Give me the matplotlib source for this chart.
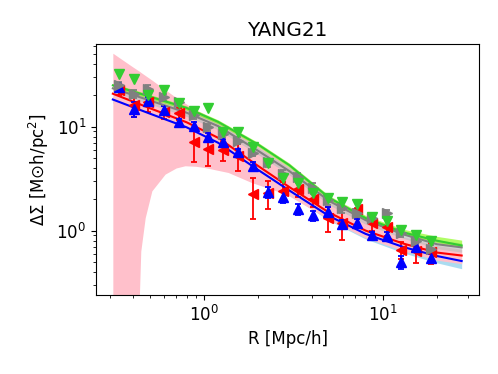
import numpy as np
import matplotlib.pyplot as plt

plt.rcParams['font.size'] = 12

# radial bins of the measurements (Mpc/h)
r_data = [0.336, 0.409, 0.49, 0.599, 0.726, 0.88, 1.057, 1.28, 1.55, 1.88, 2.28,
          2.76, 3.35, 4.06, 4.92, 5.89, 7.13, 8.64, 10.47, 12.6, 15.3, 18.5]

# measured Delta Sigma for the four samples
red_y = [22.3, 16.0, 17.2, 13.8, 13.4, 7.05, 6.09, 5.9, 5.25, 2.25, 2.32,
         2.41, 2.5, 2.02, 1.33, 1.19, 1.6, 1.19, 1.08, 0.65, 0.63, 0.62]
red_err = [2.0, 3.6, 3.4, 2.0, 1.8, 2.5, 1.9, 1.2, 1.5, 0.95, 0.7,
           0.5, 0.4, 0.35, 0.35, 0.38, 0.25, 0.2, 0.2, 0.12, 0.14, 0.14]
blue_y = [24.0, 14.8, 17.8, 14.5, 11.0, 10.2, 8.0, 7.05, 5.65, 4.2, 2.35,
          2.1, 1.6, 1.4, 1.52, 1.15, 1.19, 0.9, 0.88, 0.5, 0.7, 0.55]
blue_err = [2.0, 2.5, 1.5, 1.2, 0.9, 0.8, 0.6, 0.5, 0.4, 0.35, 0.3,
            0.25, 0.2, 0.15, 0.15, 0.12, 0.1, 0.08, 0.08, 0.07, 0.06, 0.05]
gray_y = [24.9, 20.7, 23.1, 19.2, 17.2, 12.8, 9.84, 8.4, 7.33, 5.61, 4.52,
          3.49, 3.24, 2.57, 1.97, 1.65, 1.49, 1.31, 1.49, 0.95, 0.79, 0.67]
gray_err = [2.0, 1.8, 1.8, 1.5, 1.3, 1.0, 0.8, 0.7, 0.6, 0.45, 0.4,
            0.35, 0.35, 0.3, 0.2, 0.18, 0.15, 0.12, 0.1, 0.08, 0.07, 0.06]
green_y = [32.3, 28.9, 19.9, 22.6, 17.0, 14.1, 15.0, 8.81, 8.81, 6.3, 4.49,
           3.21, 2.88, 2.3, 2.07, 1.9, 1.79, 1.35, 1.24, 1.01, 0.9, 0.79]

# model curves
r_model = [0.31, 0.5, 0.8, 1.2, 2.0, 3.0, 5.0, 8.0, 13.0, 20.0, 27.5]
blue_model = [18.2, 13.3, 9.84, 6.99, 3.85, 2.43, 1.38, 0.93, 0.695, 0.57, 0.51]
red_model = [20.7, 15.0, 11.0, 7.8, 4.2, 2.62, 1.49, 1.0, 0.75, 0.615, 0.576]
gray_model = [23.3, 17.8, 13.6, 10.1, 5.87, 3.73, 1.93, 1.26, 0.92, 0.74, 0.69]
green_model = [24.9, 19.4, 15.1, 11.1, 6.74, 4.25, 2.07, 1.32, 0.96, 0.8, 0.72]
blue_lo = [16.8, 12.3, 9.1, 6.45, 3.55, 2.22, 1.25, 0.83, 0.61, 0.49, 0.43]
blue_hi = [19.4, 14.1, 10.4, 7.4, 4.08, 2.58, 1.46, 0.98, 0.73, 0.6, 0.54]
gray_lo = [21.5, 16.4, 12.5, 9.3, 5.4, 3.43, 1.77, 1.15, 0.84, 0.67, 0.62]
gray_hi = [25.1, 19.2, 14.7, 10.9, 6.34, 4.03, 2.08, 1.36, 1.0, 0.81, 0.76]
green_lo = [23.8, 18.5, 14.4, 10.6, 6.45, 4.06, 1.98, 1.26, 0.92, 0.77, 0.69]
green_hi = [26.0, 20.3, 15.8, 11.6, 7.05, 4.45, 2.17, 1.4, 1.03, 0.88, 0.81]

# wide uncertainty band of the red model
r_pink = [0.31, 0.4, 0.436, 0.444, 0.47, 0.512, 0.607, 0.7, 0.784, 0.9, 1.0, 1.366,
          1.843, 2.71, 3.0, 4.0, 5.0, 8.0, 13.0, 20.0, 27.5]
pink_hi = [50.7, 37.5, 34.0, 33.2, 31.0, 28.0, 22.6, 19.0, 16.8, 14.5, 13.2, 10.0,
           7.2, 4.6, 4.1, 2.8, 2.0, 1.25, 0.87, 0.72, 0.66]
pink_lo = [0.1, 0.18, 0.233, 0.634, 1.33, 2.41, 3.49, 4.0, 4.2, 4.15, 4.05, 3.62,
           2.9, 2.32, 2.15, 1.6, 1.27, 0.85, 0.64, 0.52, 0.48]

fig = plt.figure(figsize=(4.98, 3.74), dpi=100)
ax = fig.add_axes([0.193, 0.211, 0.769, 0.671])

ax.fill_between(r_model, blue_lo, blue_hi, color='skyblue', alpha=0.7, lw=0)
ax.fill_between(r_pink, pink_lo, pink_hi, color='pink', lw=0)
ax.fill_between(r_model, gray_lo, gray_hi, color='silver', alpha=0.7, lw=0)
ax.fill_between(r_model, green_lo, green_hi, color='lawngreen', alpha=0.6, lw=0)

kw = dict(ls='none', ms=7, capsize=2.5, elinewidth=1.3, capthick=1.3)
ax.errorbar(r_data, red_y, yerr=red_err, marker='<', color='red', **kw)
ax.plot(r_model, red_model, color='red', lw=1.5)
ax.errorbar(r_data, blue_y, yerr=blue_err, marker='^', color='blue', **kw)
ax.plot(r_model, blue_model, color='blue', lw=1.5)
ax.errorbar(r_data, gray_y, yerr=gray_err, marker='>', color='gray', **kw)
ax.plot(r_model, gray_model, color='gray', lw=1.5)
ax.errorbar(r_data, green_y, marker='v', color='limegreen', **kw)
ax.plot(r_model, green_model, color='limegreen', lw=1.5)

ax.set_xscale('log')
ax.set_yscale('log')
ax.set_xlim(0.25, 34.4)
ax.set_ylim(0.24, 62)
ax.set_xlabel('R [Mpc/h]')
ax.set_ylabel(r'$\Delta\Sigma$ [M$\odot$h/pc$^2$]')
ax.set_title('YANG21')

fig.savefig('out.png', dpi=100)
